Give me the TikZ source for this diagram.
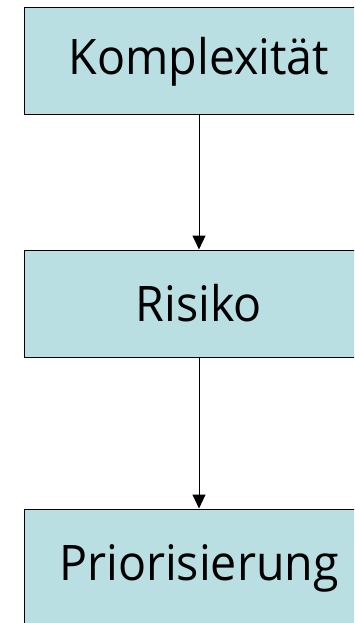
\documentclass[tikz,border=0pt]{standalone}
\usepackage{fontspec}
\setmainfont{Open Sans}[FakeStretch=0.95]
\usetikzlibrary{arrows.meta,positioning}

\definecolor{boxfill}{HTML}{B9DFE3}

\begin{document}
\begin{tikzpicture}[x=1pt, y=1pt, -{Triangle[length=14pt,width=13pt]}, line width=1pt,
    stufe/.style={draw, fill=boxfill, minimum width=350pt, minimum height=107pt,
      font=\fontsize{49}{58}\selectfont, inner sep=0pt}]
  \clip (0,0) rectangle (354,-623);

  \node[stufe]         (K) at (199,-61.5) {Komplexität};
  \node[stufe]         (R) [below=134pt of K] {Risiko};
  \node[stufe, minimum height=119pt] (P) [below=151pt of R] {Priorisierung};

  \draw (K) -- (R);
  \draw (R) -- (P);
\end{tikzpicture}
\end{document}
